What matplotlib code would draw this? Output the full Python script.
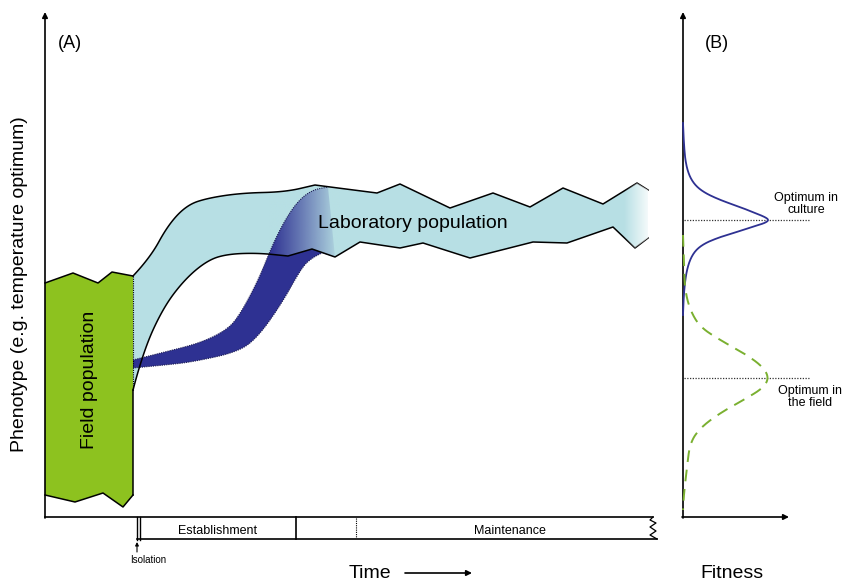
import matplotlib
matplotlib.use('Agg')
import matplotlib.pyplot as plt
import numpy as np
from matplotlib.patches import Polygon

plt.rcParams['font.family'] = ['Liberation Sans', 'DejaVu Sans']

# shapes of the schematic (x = time, y = phenotype, pixel units)
field_top = [(45, 283), (73, 273), (98, 283), (112, 272), (133, 276)]
field_bottom = [(45, 495), (75, 502), (103, 493), (123, 507), (133, 495)]

lab_upper = [(133, 276), (150, 258), (168, 225), (187, 205), (208, 198), (242, 193),
             (285, 192), (315, 185), (338, 188), (377, 193), (400, 184), (450, 208),
             (493, 193), (530, 207), (563, 188), (603, 204), (637, 183), (648, 190)]
lab_lower = [(133, 390), (143, 352), (163, 308), (185, 279), (208, 260), (228, 254),
             (258, 253), (288, 256), (312, 249), (335, 257), (360, 242), (400, 248),
             (423, 243), (470, 258), (533, 242), (567, 243), (613, 227), (635, 248),
             (648, 238)]

band_upper = [(133, 360), (165, 352), (200, 343), (225, 331), (238, 318), (258, 281),
              (272, 246), (285, 220), (298, 201), (312, 190), (328, 187)]
band_lower = [(133, 368), (165, 365), (192, 362), (238, 352), (258, 337), (282, 303),
              (302, 267), (312, 258), (322, 253), (335, 257)]

# fitness curves of panel B: (fitness, phenotype)
culture_fit = [(683, 123), (684, 150), (687, 170), (693, 183), (703, 192), (720, 200),
               (740, 207), (755, 213), (765, 217), (769, 220), (765, 223), (755, 226),
               (740, 231), (720, 237), (703, 244), (693, 253), (687, 268), (684, 290),
               (683, 315)]
field_fit = [(683, 235), (684, 265), (685, 290), (690, 310), (700, 327), (720, 340),
             (747, 355), (763, 367), (769, 378), (763, 388), (747, 398), (720, 413),
             (700, 428), (690, 443), (687, 467), (684, 493), (683, 510)]
optima = [220, 378]

phases = ['Establishment', 'Maintenance']

green = '#8dc21f'
light = '#b7dfe4'
navy = '#2e3192'


def smooth(pts, k=16):
    # quadratic b-spline through the read points, for the rounded parts
    p = np.array(pts, dtype=float)
    out = [p[0]]
    start = p[0]
    t = np.linspace(0, 1, k)[1:, None]
    for i in range(1, len(p) - 1):
        end = (p[i] + p[i + 1]) / 2
        out.extend((1 - t) ** 2 * start + 2 * (1 - t) * t * p[i] + t ** 2 * end)
        start = end
    out.append(p[-1])
    return np.array(out)


upper = np.vstack([smooth(lab_upper[:8]), np.array(lab_upper[8:], float)])
lower = np.vstack([smooth(lab_lower[:8]), np.array(lab_lower[8:], float)])
b_up = smooth(band_upper)
b_lo = smooth(band_lower[:-1])

fig = plt.figure(figsize=(8.43, 5.81), dpi=100)
ax = fig.add_axes([0, 0, 1, 1])

# field population
field_poly = field_top + [(133, 390)] + field_bottom[::-1]
ax.add_patch(Polygon(field_poly, closed=True, fc=green, ec='none', zorder=2))
ax.plot(*np.array(field_top).T, color='k', lw=1.1, zorder=5)
ax.plot(*np.array(field_bottom).T, color='k', lw=1.1, zorder=5)
ax.plot([133, 133], [390, 495], color='k', lw=1.1, zorder=5)
ax.plot([133, 133], [276, 390], color='k', lw=0.8, ls=(0, (1, 1)), zorder=5)

# laboratory population
lab_patch = Polygon(np.vstack([upper, lower[::-1]]), closed=True, fc=light, ec='none', zorder=2)
ax.add_patch(lab_patch)

# transition band
band_poly = np.vstack([b_up, [band_lower[-1]], b_lo[::-1]])
ax.add_patch(Polygon(band_poly, closed=True, fc=navy, ec='none', zorder=3))

# band fades into the lab population
n = 200
grad = np.zeros((1, n, 4))
grad[..., :3] = matplotlib.colors.to_rgb(light)
grad[0, :, 3] = np.linspace(0, 1, n) ** 1.1
im = ax.imshow(grad, extent=(268, 340, 262, 180), aspect='auto', zorder=4, interpolation='bilinear')
im.set_clip_path(lab_patch)

# right end fades to white
grad2 = np.ones((1, n, 4))
grad2[0, :, 3] = np.linspace(0, 1, n)
im2 = ax.imshow(grad2, extent=(624, 652, 260, 175), aspect='auto', zorder=6, interpolation='bilinear')
im2.set_clip_path(lab_patch)

ax.plot(*b_up.T, color='#1a1a50', lw=0.8, ls=(0, (1, 1)), zorder=5)
ax.plot(*b_lo.T, color='#1a1a50', lw=0.8, ls=(0, (1, 1)), zorder=5)
ax.plot(*upper.T, color='k', lw=1.1, zorder=5)
ax.plot(*lower.T, color='k', lw=1.1, zorder=5)

ax.text(413, 223, 'Laboratory population', fontsize=14, ha='center', va='center', zorder=7)
ax.text(89, 380, 'Field population', fontsize=14, rotation=90, ha='center', va='center', zorder=7)

# axes of panel A
arrow = dict(arrowstyle='-|>', lw=1.2, color='k', mutation_scale=8, shrinkA=0, shrinkB=0)
ax.annotate('', xy=(45, 12), xytext=(45, 518), arrowprops=arrow)
ax.plot([45, 653], [517, 517], color='k', lw=1.2)

# time bar
ax.plot([137, 657], [539, 539], color='k', lw=1.2)
ax.plot([137, 137], [517, 540], color='k', lw=1.0)
ax.plot([140, 140], [517, 540], color='k', lw=1.0)
ax.plot([296, 296], [517, 539], color='k', lw=1.2)
ax.plot([356, 356], [518, 538], color='k', lw=0.8, ls=(0, (1, 1)))
ax.plot([653, 650, 656, 650, 656, 650, 657], [517, 520, 523, 527, 531, 535, 539], color='k', lw=0.9)
ax.text(218, 531, phases[0], fontsize=9, ha='center', va='center')
ax.text(510, 531, phases[1], fontsize=9, ha='center', va='center')

ax.annotate('', xy=(137, 542), xytext=(137, 552),
            arrowprops=dict(arrowstyle='-|>', lw=0.8, color='k', mutation_scale=5, shrinkA=0, shrinkB=0))
ax.text(148, 560, 'Isolation', fontsize=7, ha='center', va='center')

ax.text(370, 573, 'Time', fontsize=14, ha='center', va='center')
ax.annotate('', xy=(472, 573), xytext=(405, 573), arrowprops=arrow)

ax.text(20, 284, 'Phenotype (e.g. temperature optimum)', fontsize=14, rotation=90,
        ha='center', va='center')
ax.text(70, 43, '(A)', fontsize=13, ha='center', va='center')

# panel B
ax.annotate('', xy=(683, 12), xytext=(683, 518), arrowprops=arrow)
ax.annotate('', xy=(789, 517), xytext=(682, 517), arrowprops=arrow)
ax.text(717, 43, '(B)', fontsize=13, ha='center', va='center')

ax.plot(*smooth(culture_fit).T, color=navy, lw=1.3, zorder=5)
ax.plot(*smooth(field_fit).T, color='#7ab030', lw=1.4, ls=(0, (6, 4)), zorder=5)
for yo in optima:
    ax.plot([684, 810], [yo, yo], color='#333333', lw=0.9, ls=(0, (1, 1.2)), zorder=4)

ax.text(806, 204, 'Optimum in\nculture', fontsize=9, ha='center', va='center', linespacing=1.1)
ax.text(810, 397, 'Optimum in\nthe field', fontsize=9, ha='center', va='center', linespacing=1.1)
ax.text(732, 573, 'Fitness', fontsize=14, ha='center', va='center')

ax.set_xlim(0, 843)
ax.set_ylim(581, 0)
ax.axis('off')
fig.savefig('out.png', dpi=100)
